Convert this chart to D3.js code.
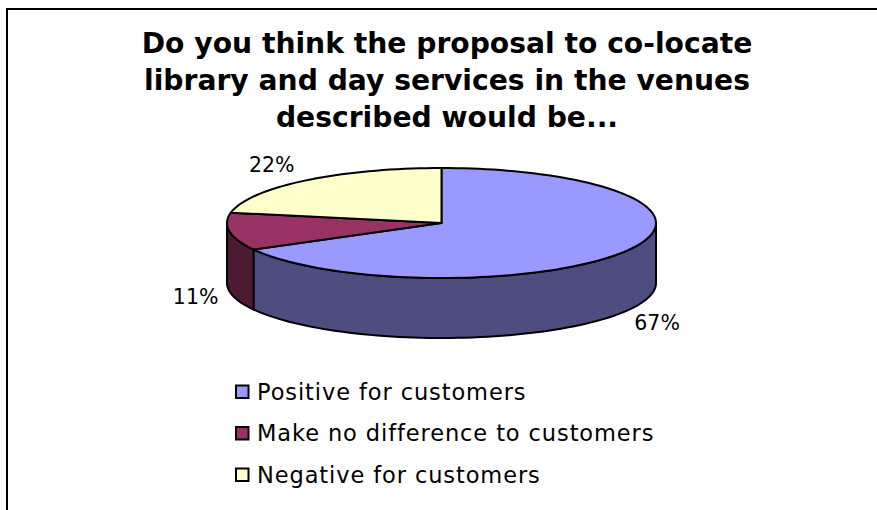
<!DOCTYPE html>
<html>
<head>
<meta charset="utf-8">
<script src="https://cdn.jsdelivr.net/npm/d3@7/dist/d3.min.js"></script>
<style>
  html, body { margin: 0; padding: 0; background: #fff; }
  svg { display: block; font-family: "DejaVu Sans", sans-serif; }
</style>
</head>
<body>
<svg id="chart" width="877" height="510"></svg>
<script>
const titleLines = [
  "Do you think the proposal to co-locate",
  "library and day services in the venues",
  "described would be..."
];
const categories = ["Positive for customers", "Make no difference to customers", "Negative for customers"];
const shares = [67, 11, 22];
const topColors = ["#9999ff", "#993366", "#ffffcc"];
const wallColors = ["#4d4d80", "#4d1a33", "#80805f"];

const disc = { cx: 441.5, cy: 223, rx: 214.5, ry: 55, depth: 60 };
const labelNudges = [[31, 19], [-34, 72], [-33, -9]];

const svg = d3.select("#chart");

// Chart frame: only the top and left edges fall inside the viewport.
svg.append("path")
  .attr("d", "M7,510V9H877")
  .attr("fill", "none").attr("stroke", "#000").attr("stroke-width", 2);

svg.append("g").selectAll("text").data(titleLines).join("text")
  .attr("x", 447)
  .attr("y", (d, i) => 53 + i * 37)
  .attr("text-anchor", "middle")
  .attr("font-size", 28.2).attr("font-weight", "bold")
  .attr("fill", "#000")
  .text(d => d);

const arcs = d3.pie().sort(null).value(d => d)(shares);

// Tilted-disc projection; angles run clockwise from 12 o'clock.
const px = d3.scaleLinear().domain([-1, 1]).range([disc.cx - disc.rx, disc.cx + disc.rx]);
const py = d3.scaleLinear().domain([-1, 1]).range([disc.cy - disc.ry, disc.cy + disc.ry]);
const project = (a, drop = 0) => [px(Math.sin(a)), py(-Math.cos(a)) + drop];
const sweep = (a0, a1) => {
  const n = Math.max(1, Math.ceil((a1 - a0) / (Math.PI / 90)));
  return d3.range(n + 1).map(i => a0 + (a1 - a0) * i / n);
};
const line = d3.line();

// Side wall: only the part of the rim facing the viewer, from 3 o'clock to 9 o'clock.
const wallLayer = svg.append("g");
arcs.forEach((d, i) => {
  const a0 = Math.max(d.startAngle, Math.PI / 2);
  const a1 = Math.min(d.endAngle, 3 * Math.PI / 2);
  if (a1 <= a0) return;
  const rim = sweep(a0, a1);
  const pts = rim.map(a => project(a)).concat(rim.slice().reverse().map(a => project(a, disc.depth)));
  wallLayer.append("path")
    .attr("d", line(pts) + "Z")
    .attr("fill", wallColors[i])
    .attr("stroke", "#000").attr("stroke-width", 2)
    .attr("stroke-linejoin", "round");
});

// Top face wedges.
const faceLayer = svg.append("g");
arcs.forEach((d, i) => {
  const pts = [[disc.cx, disc.cy]].concat(sweep(d.startAngle, d.endAngle).map(a => project(a)));
  faceLayer.append("path")
    .attr("d", line(pts) + "Z")
    .attr("fill", topColors[i])
    .attr("stroke", "#000").attr("stroke-width", 2)
    .attr("stroke-linejoin", "round");
});

// Percentage labels, set off from each wedge's mid-angle on the rim.
svg.append("g").selectAll("text").data(arcs).join("text")
  .attr("x", (d, i) => project((d.startAngle + d.endAngle) / 2)[0] + labelNudges[i][0])
  .attr("y", (d, i) => project((d.startAngle + d.endAngle) / 2, i === 0 ? disc.depth : 0)[1] + labelNudges[i][1])
  .attr("text-anchor", "middle")
  .attr("font-size", 20.5).attr("fill", "#000")
  .text(d => d3.format(".0f")(d.value) + "%");

// Legend.
const legendRow = d3.scalePoint().domain(categories).range([391.5, 474.5]);
const legend = svg.append("g").selectAll("g").data(categories).join("g")
  .attr("transform", d => `translate(0,${legendRow(d)})`);
legend.append("rect")
  .attr("x", 236).attr("y", -6).attr("width", 12.5).attr("height", 12.5)
  .attr("fill", (d, i) => topColors[i])
  .attr("stroke", "#000").attr("stroke-width", 2);
legend.append("text")
  .attr("x", 257).attr("y", 8)
  .attr("font-size", 22.5).attr("letter-spacing", 0.9).attr("fill", "#000")
  .text(d => d);
</script>
</body>
</html>
